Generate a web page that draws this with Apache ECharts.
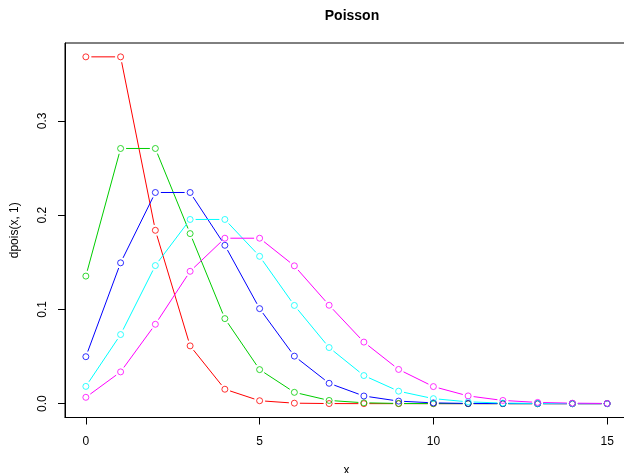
<!DOCTYPE html>
<html>
<head>
<meta charset="utf-8">
<script src="https://cdn.jsdelivr.net/npm/echarts@6/dist/echarts.min.js"></script>
<style>html,body{margin:0;padding:0;background:#fff}#c{width:624px;height:473px}</style>
</head>
<body>
<div id="c"></div>
<script>
const xs = [0,1,2,3,4,5,6,7,8,9,10,11,12,13,14,15];
const lambda1 = [0.3679,0.3679,0.1839,0.0613,0.0153,0.0031,0.0005,0.0001,0,0,0,0,0,0,0,0];
const lambda2 = [0.1353,0.2707,0.2707,0.1804,0.0902,0.0361,0.0120,0.0034,0.0009,0.0002,0.00004,0,0,0,0,0];
const lambda3 = [0.0498,0.1494,0.2240,0.2240,0.1680,0.1008,0.0504,0.0216,0.0081,0.0027,0.0008,0.0002,0.00006,0.00001,0,0];
const lambda4 = [0.0183,0.0733,0.1465,0.1954,0.1954,0.1563,0.1042,0.0595,0.0298,0.0132,0.0053,0.0019,0.0006,0.0002,0.00005,0.00001];
const lambda5 = [0.0067,0.0337,0.0842,0.1404,0.1755,0.1755,0.1462,0.1044,0.0653,0.0363,0.0181,0.0082,0.0034,0.0013,0.0005,0.0002];
const xTicks = [0,5,10,15];
const yTicks = [0,0.1,0.2,0.3];
const yTickLabels = ['0.0','0.1','0.2','0.3'];

const allSeries = [lambda1, lambda2, lambda3, lambda4, lambda5];
const colors = ['#FF0000','#00CD00','#0000FF','#00FFFF','#FF00FF'];
const font = 'Liberation Sans, Arial, Helvetica, sans-serif';
const GAP = 5.5;

const series = [];
allSeries.forEach((vals, k) => {
  const segs = [];
  for (let i = 0; i < xs.length - 1; i++) segs.push([xs[i], vals[i], xs[i+1], vals[i+1]]);
  series.push({
    type: 'custom',
    data: segs,
    encode: {x: [0, 2], y: [1, 3]},
    renderItem: (params, api) => {
      const p1 = api.coord([api.value(0), api.value(1)]);
      const p2 = api.coord([api.value(2), api.value(3)]);
      const dx = p2[0] - p1[0], dy = p2[1] - p1[1];
      const len = Math.sqrt(dx*dx + dy*dy);
      if (len <= 2 * GAP) return null;
      const ux = dx / len, uy = dy / len;
      return {
        type: 'line',
        shape: {x1: p1[0] + ux*GAP, y1: p1[1] + uy*GAP, x2: p2[0] - ux*GAP, y2: p2[1] - uy*GAP},
        style: {stroke: colors[k], lineWidth: 1}
      };
    },
    silent: true,
    z: 2 + 2*k
  });
  series.push({
    type: 'scatter',
    data: xs.map((x, i) => [x, vals[i]]),
    symbol: 'circle', symbolSize: 6,
    itemStyle: {color: 'rgba(0,0,0,0)', borderColor: colors[k], borderWidth: 1},
    emphasis: {disabled: true},
    silent: true,
    z: 3 + 2*k
  });
});

const chart = echarts.init(document.getElementById('c'), null, {renderer:'canvas'});
chart.setOption({
  animation: false,
  backgroundColor: '#fff',
  title: {
    text: 'Poisson', left: 347, top: 4, textAlign: 'center',
    textStyle: {fontFamily: font, fontWeight: 'bold', fontSize: 14, color: '#000'}
  },
  grid: {left: 65, top: 43, width: 563, height: 374.5, outerBoundsMode: 'none', containLabel: false,
    show: true, borderColor: '#000', borderWidth: 1, backgroundColor: 'transparent'},
  xAxis: {
    type: 'value', min: -0.6, max: 15.6,
    name: 'x', nameLocation: 'middle', nameGap: 47,
    nameTextStyle: {fontFamily: font, fontSize: 12, color: '#000'},
    axisLine: {show: true, onZero: false, lineStyle: {color: '#000'}},
    axisTick: {show: true, length: 7, customValues: xTicks, lineStyle: {color: '#000'}},
    axisLabel: {customValues: xTicks, margin: 18, fontFamily: font, fontSize: 12, color: '#000'},
    splitLine: {show: false}
  },
  yAxis: {
    type: 'value', min: -0.0147, max: 0.3826,
    name: 'dpois(x, 1)', nameLocation: 'middle', nameGap: 44, nameRotate: 90,
    nameTextStyle: {fontFamily: font, fontSize: 12, color: '#000'},
    axisLine: {show: true, onZero: false, lineStyle: {color: '#000'}},
    axisTick: {show: true, length: 7, customValues: yTicks, lineStyle: {color: '#000'}},
    axisLabel: {customValues: yTicks, rotate: 90, margin: 16, fontFamily: font, fontSize: 12, color: '#000',
      formatter: v => { const i = yTicks.findIndex(t => Math.abs(t - v) < 1e-9); return i >= 0 ? yTickLabels[i] : ''; }},
    splitLine: {show: false}
  },
  series: series
});
</script>
</body>
</html>
